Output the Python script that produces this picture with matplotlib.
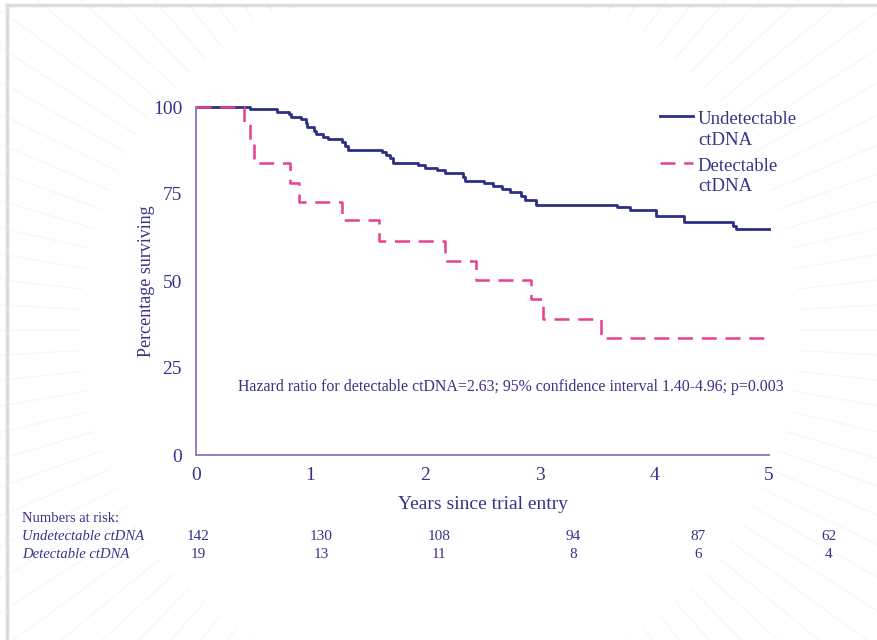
import numpy as np
import matplotlib
matplotlib.use("Agg")
import matplotlib.pyplot as plt

# Kaplan-Meier steps (years, % surviving)
undet_t = [0, 0.47, 0.71, 0.81, 0.83, 0.92, 0.96, 0.97, 1.03, 1.05, 1.11, 1.15,
           1.27, 1.30, 1.33, 1.62, 1.66, 1.69, 1.72, 1.94, 2.00, 2.10, 2.17, 2.33,
           2.35, 2.51, 2.59, 2.67, 2.74, 2.84, 2.87, 2.97, 3.67, 3.79, 4.01, 4.26,
           4.69, 4.71, 5.0]
undet_s = [100, 99.3, 98.6, 97.9, 97.2, 96.5, 95.3, 94.2, 93.2, 92.2, 91.5, 90.7,
           89.9, 88.8, 87.6, 87.1, 86.2, 85.3, 84.0, 83.3, 82.6, 81.8, 80.9, 79.8,
           78.8, 78.1, 77.3, 76.3, 75.5, 74.4, 73.3, 71.8, 71.2, 70.4, 68.7, 66.9,
           65.8, 64.9, 64.9]
det_t = [0, 0.42, 0.47, 0.51, 0.82, 0.90, 1.27, 1.60, 2.17, 2.44, 2.92, 3.03, 3.53, 5.0]
det_s = [100, 95.3, 89.6, 84.0, 78.3, 72.8, 67.4, 61.5, 55.8, 50.3, 44.7, 39.1, 33.5, 33.5]

x_ticks = [0, 1, 2, 3, 4, 5]
y_ticks = [0, 25, 50, 75, 100]

risk_labels = ["Undetectable ctDNA", "Detectable ctDNA"]
risk_undet = [142, 130, 108, 94, 87, 62]
risk_det = [19, 13, 11, 8, 6, 4]

navy = "#2d2f86"
pink = "#e8408e"
txt = "#35348a"
spine = "#8283c4"

plt.rcParams['font.family'] = ['Liberation Serif', 'DejaVu Serif']

W, H = 877, 640
fig = plt.figure(figsize=(W / 100, H / 100), dpi=100)

# faint background rays and frame
bg = fig.add_axes([0, 0, 1, 1])
bg.set_xlim(0, W)
bg.set_ylim(H, 0)
bg.axis("off")
cx, cy = 440, 330
for a in np.linspace(0, 2 * np.pi, 110, endpoint=False):
    bg.plot([cx + 360 * np.cos(a), cx + 800 * np.cos(a)],
            [cy + 360 * np.sin(a), cy + 800 * np.sin(a)],
            color="#f6f6f6", lw=0.8, zorder=0)
bg.plot([7, W], [5, 5], color="#dcdcdc", lw=2.5, zorder=1)
bg.plot([7, 7], [5, H], color="#dcdcdc", lw=2.5, zorder=1)

ax = fig.add_axes([196 / W, 1 - 455 / H, (769 - 196) / W, 348 / H])
ax.patch.set_alpha(0)
ax.step(undet_t, undet_s, where="post", color=navy, lw=2.0, clip_on=False)
ax.step(det_t, det_s, where="post", color=pink, lw=1.8, dashes=(6, 3.5), clip_on=False)

ax.set_xlim(0, 5)
ax.set_ylim(0, 100)
ax.set_xticks(x_ticks)
ax.set_yticks(y_ticks)
ax.tick_params(length=0, labelsize=14, labelcolor=txt)
ax.tick_params(axis="y", pad=10)
ax.tick_params(axis="x", pad=9)
for s in ["top", "right"]:
    ax.spines[s].set_visible(False)
for s in ["left", "bottom"]:
    ax.spines[s].set_color(spine)
    ax.spines[s].set_linewidth(1.4)

ax.set_xlabel("Years since trial entry", fontsize=14, color=txt, labelpad=8)
ax.set_ylabel("Percentage surviving", fontsize=13, color=txt, labelpad=0)
ax.yaxis.set_label_coords(-0.071, 0.5)

ax.text(0.073, 0.196,
        "Hazard ratio for detectable ctDNA=2.63; 95% confidence interval 1.40-4.96; p=0.003",
        transform=ax.transAxes, fontsize=11.4, color=txt, va="center", ha="left")

# legend drawn by hand to keep the two-line labels
ax.plot([0.810, 0.867], [0.974, 0.974], transform=ax.transAxes, color=navy, lw=2.0, clip_on=False)
ax.plot([0.810, 0.867], [0.840, 0.840], transform=ax.transAxes, color=pink, lw=1.8,
        dashes=(6, 3.5), clip_on=False)
ax.text(0.876, 0.988, "Undetectable\nctDNA", transform=ax.transAxes, fontsize=13.5,
        color=txt, va="top", ha="left", linespacing=1.3)
ax.text(0.876, 0.853, "Detectable\nctDNA", transform=ax.transAxes, fontsize=13.5,
        color=txt, va="top", ha="left", linespacing=1.2)

# numbers at risk table
col_x = [198, 321, 439, 573, 698, 829]
fig.text(22 / W, 1 - 519 / H, "Numbers at risk:", fontsize=10.5, color=txt, va="center")
for row, (lab, vals) in enumerate(zip(risk_labels, [risk_undet, risk_det])):
    yy = 1 - (537 + 18 * row) / H
    fig.text(22 / W, yy, lab, fontsize=10.5, style="italic", color=txt, va="center")
    for xx, v in zip(col_x, vals):
        fig.text(xx / W, yy, str(v), fontsize=11, color=txt, va="center", ha="center")

fig.savefig("out.png", dpi=100)
